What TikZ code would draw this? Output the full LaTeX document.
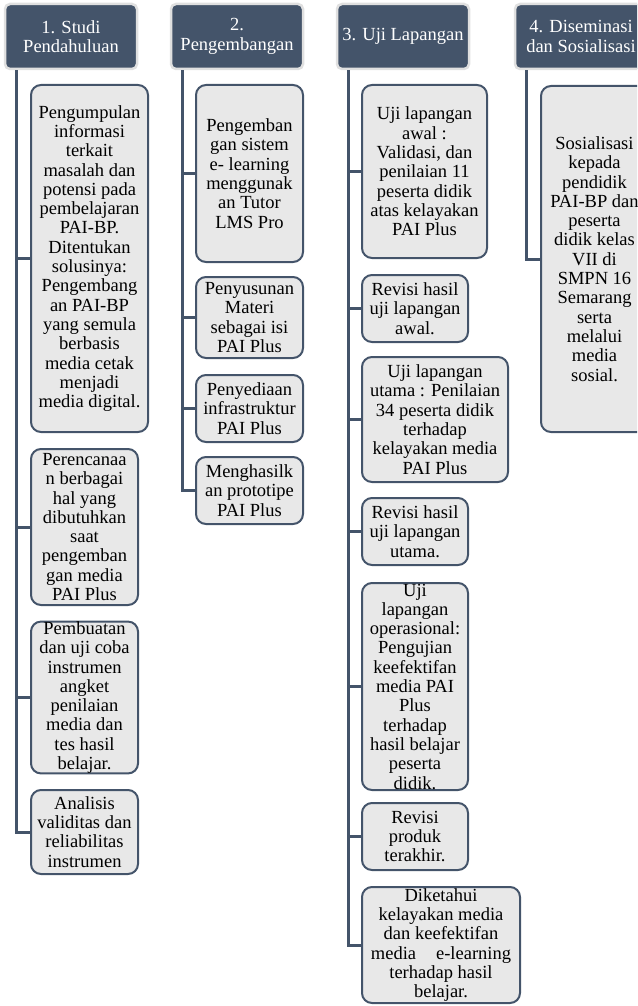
\documentclass[tikz,border=0pt]{standalone}
\usepackage{fontspec}
\setmainfont{Liberation Serif}
\usepackage{xcolor}
\usepackage{tikz}
\usetikzlibrary{calc, positioning}
\definecolor{slate}{HTML}{44546A}
\definecolor{boxgray}{HTML}{E8E8E8}

\begin{document}
\begin{tikzpicture}[x=1pt,y=-1pt,
                    head node/.style={rectangle,rounded corners=5pt,fill=slate,draw=black!12,line width=2.5pt,
                                      text=white,align=center,minimum width=132pt,minimum height=65pt,inner sep=0pt,
                                      font=\fontsize{18.5}{19.3}\selectfont},
                    main node/.style 2 args={rectangle,rounded corners=10pt,fill=boxgray,draw=slate,line width=2pt,
                                      align=center,minimum width=#1,minimum height=#2,inner sep=0pt,
                                      font=\fontsize{18.5}{19.3}\selectfont},
                    trunk/.style={draw=slate,line width=3pt}]
\useasboundingbox (0,0) rectangle (637,1006);
\clip (0,0) rectangle (637,1006);

 \foreach \n/\x/\t in {1/71/{1. Studi\\Pendahuluan},2/237/{2.\\Pengembangan},
                       3/403/{3. Uji Lapangan},4/581/{4. Diseminasi\\dan Sosialisasi}}
    {\node [head node] (Head\n) at (\x,36.5) {\t};
     \coordinate (Trunk\n) at ([xshift=13pt]Head\n.south west);}

% column 1
\node[main node={117pt}{347pt}] (Box1a) at (89.5,258.5) {Pengumpulan\\informasi\\terkait\\masalah dan\\potensi pada\\pembelajaran\\PAI-BP.\\Ditentukan\\solusinya:\\Pengembang\\an PAI-BP\\yang semula\\berbasis\\media cetak\\menjadi\\media digital.};
\node[main node={107pt}{156pt}] (Box1b) at (84.5,527) {Perencanaa\\n berbagai\\hal yang\\dibutuhkan\\saat\\pengemban\\gan media\\PAI Plus};
\node[main node={107pt}{151pt}] (Box1c) at (84.5,697.5) {Pembuatan\\dan uji coba\\instrumen\\angket\\penilaian\\media dan\\tes hasil\\belajar.};
\node[main node={107pt}{84pt}] (Box1d) at (84.5,832) {Analisis\\validitas dan\\reliabilitas\\instrumen};

% column 2
\node[main node={107pt}{177pt}] (Box2a) at (249.5,173.5) {Pengemban\\gan sistem\\e- learning\\menggunak\\an Tutor\\LMS Pro};
\node[main node={107pt}{81pt}] (Box2b) at (249.5,317.5) {Penyusunan\\Materi\\sebagai isi\\PAI Plus};
\node[main node={107pt}{67pt}] (Box2c) at (249.5,408.5) {Penyediaan\\infrastruktur\\PAI Plus};
\node[main node={107pt}{67pt}] (Box2d) at (249.5,490.5) {Menghasilk\\an prototipe\\PAI Plus};

% column 3
\node[main node={125pt}{173pt}] (Box3a) at (424.5,171.5) {Uji lapangan\\awal :\\Validasi, dan\\penilaian 11\\peserta didik\\atas kelayakan\\PAI Plus};
\node[main node={106pt}{67pt}] (Box3b) at (415,308.5) {Revisi hasil\\uji lapangan\\awal.};
\node[main node={146pt}{125pt}] (Box3c) at (435,419.5) {Uji lapangan\\utama : Penilaian\\34 peserta didik\\terhadap\\kelayakan media\\PAI Plus};
\node[main node={106pt}{67pt}] (Box3d) at (415,531.5) {Revisi hasil\\uji lapangan\\utama.};
\node[main node={106pt}{207pt}] (Box3e) at (415,686.5) {Uji\\lapangan\\operasional:\\Pengujian\\keefektifan\\media PAI\\Plus\\terhadap\\hasil belajar\\peserta\\didik.};
\node[main node={106pt}{67pt}] (Box3f) at (415,836.5) {Revisi\\produk\\terakhir.};
\node[main node={158pt}{116pt}] (Box3g) at (441,945) {Diketahui\\kelayakan media\\dan keefektifan\\media\hspace{20pt}e-learning\\terhadap hasil\\belajar.};

% column 4
\node[main node={107pt}{346pt}] (Box4a) at (594.5,259) {Sosialisasi\\kepada\\pendidik\\PAI-BP dan\\peserta\\didik kelas\\VII di\\SMPN 16\\Semarang\\serta\\melalui\\media\\sosial.};

% trunks and branches
\draw[trunk] (Trunk1) |- (Box1d.west);
\foreach \b in {Box1a,Box1b,Box1c}
   \draw[trunk] (Trunk1 |- \b.west) -- (\b.west);
\draw[trunk] (Trunk2) |- (Box2d.west);
\foreach \b in {Box2a,Box2b,Box2c}
   \draw[trunk] (Trunk2 |- \b.west) -- (\b.west);
\draw[trunk] (Trunk3) |- (Box3g.west);
\foreach \b in {Box3a,Box3b,Box3c,Box3d,Box3e,Box3f}
   \draw[trunk] (Trunk3 |- \b.west) -- (\b.west);
\draw[trunk] (Trunk4) |- (Box4a.west);
\end{tikzpicture}
\end{document}
